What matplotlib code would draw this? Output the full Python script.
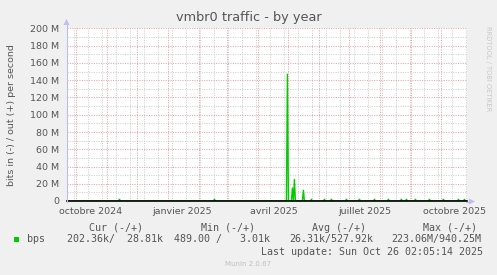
import pandas as pd
import matplotlib
matplotlib.use('Agg')
import matplotlib.pyplot as plt
from matplotlib.patches import Rectangle, Polygon
from matplotlib.lines import Line2D

# munin "by year" window (400 days)
start = pd.Timestamp('2024-09-21 02:05')
end = pd.Timestamp('2025-10-26 02:05')

# out (+) traffic, only the days that are not zero (bits per second)
spike_days = ['2024-11-13', '2025-02-16', '2025-04-30', '2025-05-05',
              '2025-05-07', '2025-05-16', '2025-05-24', '2025-06-06',
              '2025-06-13', '2025-06-28', '2025-07-11', '2025-07-26',
              '2025-08-09', '2025-08-22', '2025-08-27', '2025-09-05',
              '2025-09-19', '2025-10-03', '2025-10-18', '2025-10-24']
spike_values = [2e6, 2e6, 147e6, 15e6,
                25e6, 12.5e6, 2e6, 2e6,
                2e6, 2e6, 2e6, 2e6,
                2e6, 2e6, 2e6, 2e6,
                2e6, 2e6, 2e6, 2e6]

y_ticks = [0, 20e6, 40e6, 60e6, 80e6, 100e6, 120e6, 140e6, 160e6, 180e6, 200e6]
y_labels = ['0', '20 M', '40 M', '60 M', '80 M', '100 M', '120 M',
            '140 M', '160 M', '180 M', '200 M']
x_label_dates = ['2024-10-15', '2025-01-15', '2025-04-16', '2025-07-16', '2025-10-14']
x_labels = ['octobre 2024', 'janvier 2025', 'avril 2025', 'juillet 2025', 'octobre 2025']

legend_heads = ['Cur (-/+)', 'Min (-/+)', 'Avg (-/+)', 'Max (-/+)']
legend_vals = ['202.36k/  28.81k', '489.00 /   3.01k', '26.31k/527.92k', '223.06M/940.25M']

# daily series, zero where nothing was read
days = pd.date_range(start.normalize(), end.normalize(), freq='D')
out_bps = pd.Series(0.0, index=days)
out_bps[pd.to_datetime(spike_days)] = spike_values

W, H = 497, 275
fig = plt.figure(figsize=(W / 100, H / 100), dpi=100, facecolor='#F0F0F0')
ax = fig.add_axes([66.5 / W, 74 / H, 400 / W, 172.5 / H])
ax.set_facecolor('white')
for s in ax.spines.values():
    s.set_visible(False)

ax.set_xlim(start, end)
ax.set_ylim(0, 200e6)

red = '#EDA3A3'
grey = '#CFCFCF'
dots = (0, (1, 1.3))
for v in range(10, 200, 20):
    ax.axhline(v * 1e6, color=grey, lw=0.75, ls=dots, zorder=1)
for d in pd.date_range('2024-09-29', end, freq='14D'):
    ax.axvline(d, color=grey, lw=0.75, ls=dots, zorder=1)
for v in y_ticks[1:]:
    ax.axhline(v, color=red, lw=0.75, ls=dots, zorder=1)
for d in pd.date_range('2024-10-01', end, freq='MS'):
    ax.axvline(d, color=red, lw=0.75, ls=dots, zorder=1)

ax.plot(out_bps.index, out_bps.values, color='#00CC00', lw=1.0, zorder=3)
ax.axhline(0, color='black', lw=1.2, zorder=4, clip_on=False)

ax.set_yticks(y_ticks)
ax.set_yticklabels(y_labels)
ax.set_xticks(pd.to_datetime(x_label_dates))
ax.set_xticklabels(x_labels)
ax.tick_params(length=0, labelsize=6.8, labelcolor='#555555')
ax.tick_params(axis='y', pad=5)
ax.tick_params(axis='x', pad=4)

# axis arrows
axis_col = '#BDBDF2'
fig.add_artist(Line2D([66.5 / W, 66.5 / W], [1 - 202 / H, 1 - 22 / H], color=axis_col, lw=0.8))
fig.add_artist(Polygon([[63.5 / W, 1 - 25 / H], [69.5 / W, 1 - 25 / H], [66.5 / W, 1 - 19 / H]],
                       closed=True, color=axis_col, lw=0))
fig.add_artist(Line2D([466 / W, 470 / W], [1 - 201.5 / H, 1 - 201.5 / H], color=axis_col, lw=0.8))
fig.add_artist(Polygon([[469 / W, 1 - 198.5 / H], [469 / W, 1 - 204.5 / H], [475 / W, 1 - 201.5 / H]],
                       closed=True, color=axis_col, lw=0))

fig.text(249 / W, 1 - 17 / H, 'vmbr0 traffic - by year', ha='center', va='center',
         fontsize=9.3, color='#555555')
fig.text(12 / W, 1 - 115 / H, 'bits in (-) / out (+) per second', rotation=90,
         ha='center', va='center', fontsize=6.8, color='#555555')
fig.text(488 / W, 1 - 69 / H, 'RRDTOOL / TOBI OETIKER', rotation=270,
         ha='center', va='center', fontsize=4.8, color='#C8C8C8')

mono = dict(family='DejaVu Sans Mono', fontsize=7.2, color='#555555', va='center')
for txt, x in zip(legend_heads, [89, 201, 312, 423]):
    fig.text(x / W, 1 - 228 / H, txt, **mono)
fig.text(27 / W, 1 - 239 / H, 'bps', **mono)
for txt, x in zip(legend_vals, [67, 174, 289, 391]):
    fig.text(x / W, 1 - 239 / H, txt, **mono)
fig.text(261 / W, 1 - 252 / H, 'Last update: Sun Oct 26 02:05:14 2025', **mono)
fig.add_artist(Rectangle((14 / W, 1 - 241.5 / H), 5 / W, 5 / H, color='#00CC00', lw=0))

fig.text(248 / W, 1 - 264 / H, 'Munin 2.0.67', ha='center', va='center',
         fontsize=5, color='#C0C0C0')

fig.savefig('out.png', dpi=100, facecolor=fig.get_facecolor())
